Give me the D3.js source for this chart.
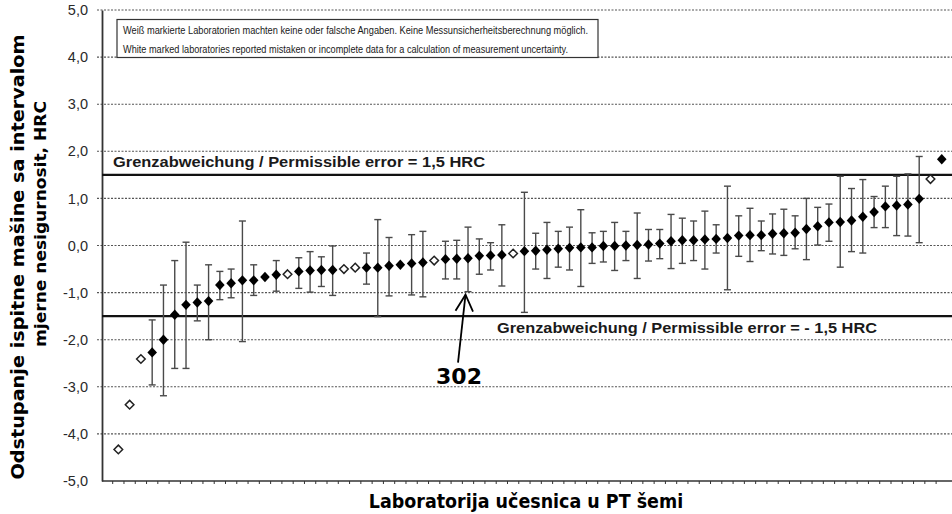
<!DOCTYPE html>
<html><head><meta charset="utf-8">
<script src="https://cdn.jsdelivr.net/npm/d3@7"></script>
<style>body{margin:0;background:#fff}svg{display:block}</style>
</head><body><svg id="c" width="952" height="514"></svg>
<script>
// ---- data ----
const labs = d3.range(1, 75);
const values = [-4.33,-3.38,-2.41,-2.27,-2.00,-1.47,-1.26,-1.21,-1.18,-0.84,
  -0.80,-0.74,-0.74,-0.67,-0.62,-0.61,-0.55,-0.53,-0.52,-0.52,
  -0.50,-0.47,-0.47,-0.47,-0.43,-0.41,-0.38,-0.36,-0.32,-0.29,
  -0.28,-0.27,-0.22,-0.21,-0.20,-0.17,-0.12,-0.11,-0.09,-0.07,
  -0.05,-0.04,-0.04,-0.01,-0.01,0.00,0.01,0.02,0.04,0.09,
  0.11,0.11,0.13,0.14,0.16,0.21,0.22,0.22,0.25,0.26,
  0.27,0.35,0.41,0.49,0.50,0.53,0.61,0.71,0.83,0.85,
  0.87,0.99,1.41,1.83];
const lower = [null,null,null,-2.96,-3.19,-2.61,-2.61,-1.60,-2.00,-1.15,
  -1.11,-2.04,-1.06,null,-0.97,null,-0.91,-0.99,-0.87,-1.06,
  null,null,-0.82,-1.51,-1.07,null,-1.05,-1.09,null,-0.71,
  -0.71,-0.98,-0.61,-0.52,-0.86,null,-1.42,-0.50,-0.70,-0.46,
  -0.52,-0.87,-0.38,-0.35,-0.53,-0.32,-0.70,-0.33,-0.28,-0.49,
  -0.38,-0.32,-0.50,-0.16,-0.94,-0.23,-0.34,-0.11,-0.18,-0.21,
  -0.07,-0.30,0.01,0.09,-0.46,-0.13,-0.16,0.38,0.38,0.21,
  0.20,0.06,null,null];
const upper = [null,null,null,-1.58,-0.84,-0.32,0.07,-0.84,-0.41,-0.55,
  -0.50,0.52,-0.41,null,-0.32,null,-0.26,-0.13,-0.24,-0.01,
  null,null,-0.16,0.55,0.17,null,0.23,0.30,null,0.09,
  0.11,0.39,0.14,0.06,0.44,null,1.13,0.26,0.49,0.30,
  0.39,0.76,0.27,0.30,0.49,0.30,0.69,0.34,0.34,0.66,
  0.58,0.52,0.73,0.44,1.26,0.63,0.79,0.52,0.67,0.77,
  0.63,1.00,0.81,0.88,1.47,1.21,1.40,1.04,1.26,1.47,
  1.52,1.89,null,null];
// 0 = white marked (no / wrong uncertainty data), 1 = reported
const reported = [0,0,0,1,1,1,1,1,1,1, 1,1,1,1,1,0,1,1,1,1,
  0,0,1,1,1,1,1,1,0,1, 1,1,1,1,1,0,1,1,1,1, 1,1,1,1,1,1,1,1,1,1,
  1,1,1,1,1,1,1,1,1,1, 1,1,1,1,1,1,1,1,1,1, 1,1,0,1];
const yTicks = [-5,-4,-3,-2,-1,0,1,2,3,4,5];
const limits = [1.5, -1.5];
const limitLabels = ["Grenzabweichung / Permissible error = 1,5 HRC",
                     "Grenzabweichung / Permissible error = - 1,5 HRC"];
const noteLines = ["Weiß markierte Laboratorien machten keine oder falsche Angaben. Keine Messunsicherheitsberechnung möglich.",
                   "White marked laboratories reported mistaken or incomplete data for a calculation of measurement uncertainty."];
const highlightLab = 32;
const highlightText = "302";
const yTitle = ["Odstupanje ispitne mašine sa intervalom", "mjerne nesigurnosit, HRC"];
const xTitle = "Laboratorija učesnica u PT šemi";

// ---- chart ----
(function () {
const svg = d3.select("#c");
const pL = 102, pR = 952, pT = 10, pB = 481;
const y = d3.scaleLinear().domain([-5, 5]).range([pB, pT]);
const x = d3.scaleBand().domain(labs).range([112.7, 947.4]);
const cx = l => x(l) + x.bandwidth() / 2;
const fmt = v => v.toFixed(1).replace(".", ",");
const data = labs.map((l, i) => ({lab: l, v: values[i], lo: lower[i], hi: upper[i], rep: reported[i]}));

// grid
svg.append("g").selectAll("line").data(yTicks.filter(t => t !== -5)).join("line")
  .attr("x1", pL - 5).attr("x2", pR).attr("y1", d => y(d)).attr("y2", d => y(d))
  .attr("stroke", "#555").attr("stroke-width", 1.1).attr("stroke-dasharray", "2,1.5");

// note box
const nb = svg.append("g");
nb.append("rect").attr("x", 117).attr("y", 19.5).attr("width", 481).attr("height", 38)
  .attr("fill", "#fff").attr("stroke", "#333").attr("stroke-width", 1.2);
nb.selectAll("text").data(noteLines).join("text")
  .attr("x", 123).attr("y", (d, i) => 34.3 + i * 18.3)
  .attr("textLength", (d, i) => [465, 445][i]).attr("lengthAdjust", "spacingAndGlyphs")
  .attr("font-family", "Liberation Sans, Arial, sans-serif").attr("font-size", 10).attr("fill", "#1a1a1a")
  .text(d => d);

// y axis
const ya = svg.append("g").attr("transform", `translate(${pL},0)`)
  .call(d3.axisLeft(y).tickValues(yTicks).tickFormat(fmt).tickSize(0).tickPadding(14));
ya.select(".domain").attr("stroke", "#333").attr("stroke-width", 1.8);
ya.selectAll("text").attr("font-family", "Liberation Sans, Arial, sans-serif")
  .attr("font-size", 14.5).attr("fill", "#2a2a2a");

// x axis
svg.append("line").attr("x1", pL).attr("x2", pR).attr("y1", pB).attr("y2", pB)
  .attr("stroke", "#333").attr("stroke-width", 1.6);
svg.append("g").selectAll("line").data(labs).join("line")
  .attr("x1", d => x(d)).attr("x2", d => x(d)).attr("y1", pB).attr("y2", pB + 3)
  .attr("stroke", "#333").attr("stroke-width", 1);

// limit lines
svg.append("g").selectAll("line").data(limits).join("line")
  .attr("x1", pL).attr("x2", pR).attr("y1", d => y(d)).attr("y2", d => y(d))
  .attr("stroke", "#111").attr("stroke-width", 2.4);
svg.append("g").selectAll("text").data(limitLabels).join("text")
  .attr("x", (d, i) => [113, 497][i]).attr("y", (d, i) => y(limits[i]) + [-8, 16.5][i])
  .attr("textLength", (d, i) => [372, 380][i]).attr("lengthAdjust", "spacingAndGlyphs")
  .attr("font-family", "Liberation Sans, Arial, sans-serif").attr("font-weight", "bold")
  .attr("font-size", 15.5).attr("fill", "#1a1a1a").text(d => d);

// error bars
const eb = svg.append("g").attr("stroke", "#4a4a4a").attr("stroke-width", 1.4);
const withBar = data.filter(d => d.lo !== null);
eb.selectAll(".v").data(withBar).join("line").attr("class", "v")
  .attr("x1", d => cx(d.lab)).attr("x2", d => cx(d.lab)).attr("y1", d => y(d.lo)).attr("y2", d => y(d.hi));
eb.selectAll(".t").data(withBar.flatMap(d => [[d.lab, d.lo], [d.lab, d.hi]])).join("line").attr("class", "t")
  .attr("x1", d => cx(d[0]) - 3.5).attr("x2", d => cx(d[0]) + 3.5).attr("y1", d => y(d[1])).attr("y2", d => y(d[1]));

// markers
svg.append("g").selectAll("path").data(data).join("path")
  .attr("transform", d => `translate(${cx(d.lab)},${y(d.v)})`)
  .attr("d", d => d.rep ? "M0,-5.2L4.8,0L0,5.2L-4.8,0Z" : "M0,-4.3L4.3,0L0,4.3L-4.3,0Z")
  .attr("fill", d => d.rep ? "#000" : "#fff")
  .attr("stroke", d => d.rep ? "none" : "#222").attr("stroke-width", 1.5);

// annotation arrow 302
const hd = data[highlightLab - 1];
const tipX = cx(hd.lab) - 2.5, tipY = y(hd.lo) + 3;
const baseX = tipX - 7.5, baseY = tipY + 68;
const ann = svg.append("g").attr("stroke", "#000").attr("stroke-width", 1.8).attr("fill", "none");
ann.append("line").attr("x1", baseX).attr("y1", baseY).attr("x2", tipX).attr("y2", tipY);
ann.append("path").attr("d", `M${tipX - 10},${tipY + 16}L${tipX},${tipY}L${tipX + 7.5},${tipY + 17}`);
svg.append("text").attr("x", baseX + 1).attr("y", baseY + 21).attr("text-anchor", "middle")
  .attr("font-family", "DejaVu Sans, Verdana, sans-serif").attr("font-weight", "bold")
  .attr("font-size", 22).attr("fill", "#000").text(highlightText);

// titles
svg.append("text").attr("transform", "translate(526,508) scale(1,1.1)").attr("text-anchor", "middle")
  .attr("font-family", "DejaVu Sans, Verdana, sans-serif").attr("font-weight", "bold")
  .attr("font-size", 17.5).attr("fill", "#000").text(xTitle);
svg.append("g").selectAll("text").data(yTitle).join("text")
  .attr("transform", (d, i) => `translate(${[24, 46][i]},${[257, 224][i]}) rotate(-90) scale(1.1,1)`)
  .attr("text-anchor", "middle")
  .attr("font-family", "DejaVu Sans, Verdana, sans-serif").attr("font-weight", "bold")
  .attr("font-size", (d, i) => [17.5, 15.5][i]).attr("fill", "#000").text(d => d);
})();
</script></body></html>
